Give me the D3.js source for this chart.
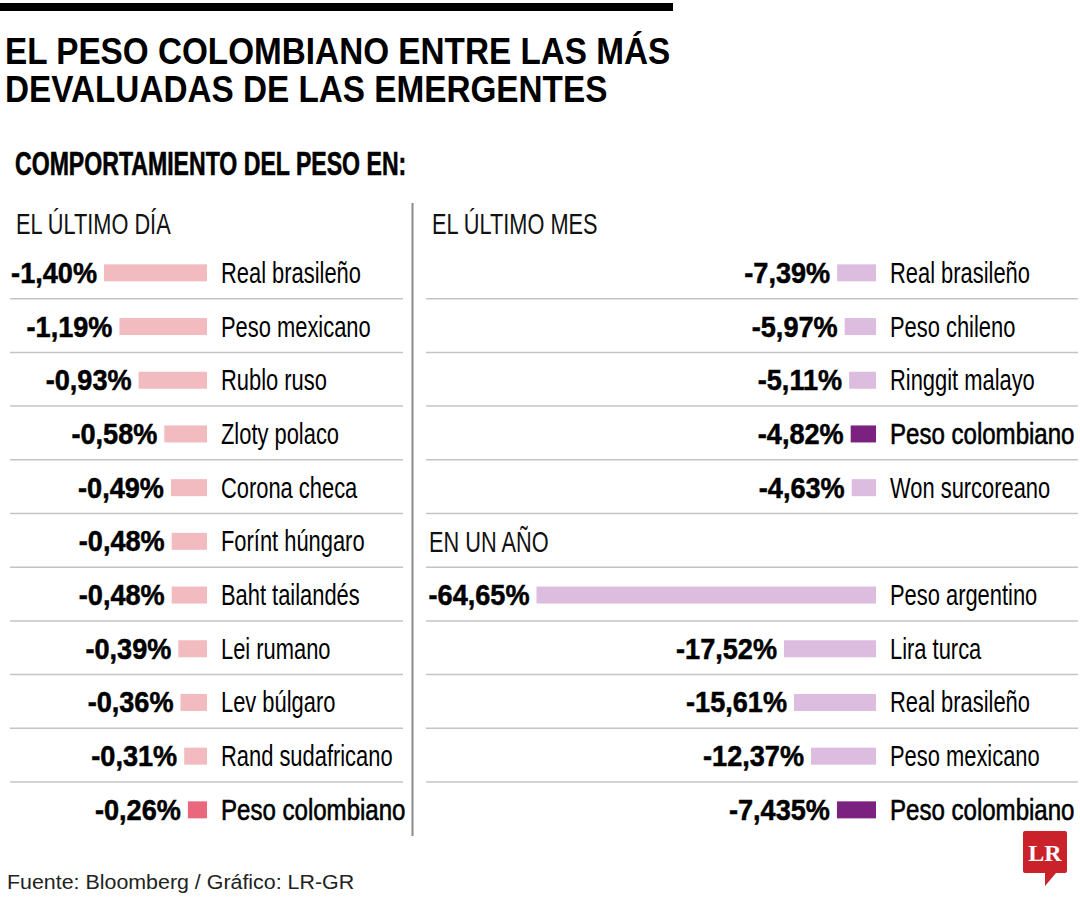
<!DOCTYPE html>
<html>
<head>
<meta charset="utf-8">
<script src="https://cdn.jsdelivr.net/npm/d3@7"></script>
<style>
  html, body { margin: 0; padding: 0; background: #fff; }
  svg { display: block; }
</style>
</head>
<body>
<div id="chart"></div>
<script>
// ---------------- DATA ----------------
const title = ["EL PESO COLOMBIANO ENTRE LAS MÁS", "DEVALUADAS DE LAS EMERGENTES"];
const subtitle = "COMPORTAMIENTO DEL PESO EN:";
const source = "Fuente: Bloomberg / Gráfico: LR-GR";

const dayTitle = "EL ÚLTIMO DÍA";
const dayCategories = ["Real brasileño", "Peso mexicano", "Rublo ruso", "Zloty polaco", "Corona checa",
  "Forínt húngaro", "Baht tailandés", "Lei rumano", "Lev búlgaro", "Rand sudafricano", "Peso colombiano"];
const dayValues = [-1.40, -1.19, -0.93, -0.58, -0.49, -0.48, -0.48, -0.39, -0.36, -0.31, -0.26];

const monthTitle = "EL ÚLTIMO MES";
const monthCategories = ["Real brasileño", "Peso chileno", "Ringgit malayo", "Peso colombiano", "Won surcoreano"];
const monthValues = [-7.39, -5.97, -5.11, -4.82, -4.63];

const yearTitle = "EN UN AÑO";
const yearCategories = ["Peso argentino", "Lira turca", "Real brasileño", "Peso mexicano", "Peso colombiano"];
const yearValues = [-64.65, -17.52, -15.61, -12.37, -7.435];

const highlight = "Peso colombiano";

// ---------------- STYLE ----------------
const W = 1080, H = 900;
const FONT = "'Liberation Sans', Arial, sans-serif";
const colors = {
  dayBar: "#f2bbc0", dayHi: "#e9687d",
  rightBar: "#dcbddf", rightHi: "#7b2180",
  rule: "#c4c4c4", divider: "#8a8a8a", text: "#111"
};

const svg = d3.select("#chart").append("svg")
  .attr("width", W).attr("height", H)
  .attr("viewBox", `0 0 ${W} ${H}`);
svg.append("rect").attr("width", W).attr("height", H).attr("fill", "#fff");

// horizontal condense helper (emulates a condensed typeface)
function condense(sel, f) {
  sel.each(function () {
    const t = d3.select(this);
    const x = +t.attr("x") || 0, y = +t.attr("y") || 0;
    t.attr("x", 0).attr("y", 0)
      .attr("transform", `translate(${x},${y}) scale(${f},1)`);
  });
  return sel;
}

const fmt = v => {
  const dec = (String(v).split(".")[1] || "").length;
  return v.toFixed(Math.max(2, dec)).replace(".", ",") + "%";
};

// top rule
svg.append("rect").attr("x", 0).attr("y", 3).attr("width", 673).attr("height", 8).attr("fill", "#000");

// title
svg.selectAll("text.title").data(title).join("text")
  .attr("class", "title")
  .attr("x", 5).attr("y", (d, i) => 64 + i * 38)
  .attr("font-family", FONT).attr("font-weight", "bold").attr("font-size", 37)
  .attr("fill", "#000")
  .text(d => d)
  .call(condense, 0.9);

svg.append("text")
  .attr("x", 15).attr("y", 175)
  .attr("font-family", FONT).attr("font-weight", "bold").attr("font-size", 33)
  .attr("fill", "#000")
  .attr("stroke", "#000").attr("stroke-width", 0.6)
  .text(subtitle)
  .call(condense, 0.70);

// ---------------- LAYOUT SCALES ----------------
const nRows = 11;
const rowScale = d3.scaleBand().domain(d3.range(nRows)).range([245, 245 + 53.7 * nRows]).paddingInner(0);
const rowCenter = i => rowScale(i) + rowScale.bandwidth() / 2;
const barH = 17;

// left panel
const leftBarEnd = 207;
const xDay = d3.scaleLinear().domain([0, 1.40]).range([0, 103]);
// right panels
const rightBarEnd = 876;
const xRight = d3.scaleLinear().domain([0, 64.65]).range([0, 339.5]);

// separators
const sepIdx = d3.range(nRows - 1);
svg.append("g").selectAll("line").data(sepIdx).join("line")
  .attr("x1", 10).attr("x2", 403)
  .attr("y1", i => rowScale(i) + rowScale.bandwidth())
  .attr("y2", i => rowScale(i) + rowScale.bandwidth())
  .attr("stroke", colors.rule).attr("stroke-width", 1.5);
svg.append("g").selectAll("line").data(sepIdx).join("line")
  .attr("x1", 426).attr("x2", 1078)
  .attr("y1", i => rowScale(i) + rowScale.bandwidth())
  .attr("y2", i => rowScale(i) + rowScale.bandwidth())
  .attr("stroke", colors.rule).attr("stroke-width", 1.5);

// vertical divider
svg.append("line").attr("x1", 412.5).attr("x2", 412.5).attr("y1", 203).attr("y2", 836)
  .attr("stroke", colors.divider).attr("stroke-width", 2);

// section headers
function header(txt, x, y) {
  svg.append("text").attr("x", x).attr("y", y)
    .attr("font-family", FONT).attr("font-size", 29).attr("fill", colors.text)
    .text(txt).call(condense, 0.75);
}
header(dayTitle, 16, 234);
header(monthTitle, 432, 234);
header(yearTitle, 429, rowCenter(5) + 12);

// panel drawing
function panel(cats, vals, startRow, barEnd, xs, base, hi) {
  const data = cats.map((c, i) => ({ c, v: vals[i], row: startRow + i }));
  const g = svg.append("g");
  g.selectAll("rect").data(data).join("rect")
    .attr("x", d => barEnd - xs(Math.abs(d.v)))
    .attr("width", d => xs(Math.abs(d.v)))
    .attr("y", d => rowCenter(d.row) - barH / 2 + 1)
    .attr("height", barH)
    .attr("fill", d => d.c === highlight ? hi : base);
  g.selectAll("text.val").data(data).join("text")
    .attr("class", "val")
    .attr("x", d => barEnd - xs(Math.abs(d.v)) - 7)
    .attr("y", d => rowCenter(d.row) + 11)
    .attr("text-anchor", "end")
    .attr("font-family", FONT).attr("font-weight", "bold").attr("font-size", 29)
    .attr("fill", "#000")
    .attr("stroke", "#000").attr("stroke-width", 0.5)
    .text(d => fmt(d.v))
    .call(condense, 0.935);
  g.selectAll("text.cat").data(data).join("text")
    .attr("class", "cat")
    .attr("x", barEnd + 14)
    .attr("y", d => rowCenter(d.row) + 11)
    .attr("font-family", FONT).attr("font-size", 29)
    .attr("fill", "#000")
    .attr("stroke", d => d.c === highlight ? "#000" : "none")
    .attr("stroke-width", 0.6)
    .text(d => d.c)
    .each(function (d) { condense(d3.select(this), d.c === highlight ? 0.83 : 0.755); });
}
panel(dayCategories, dayValues, 0, leftBarEnd, xDay, colors.dayBar, colors.dayHi);
panel(monthCategories, monthValues, 0, rightBarEnd, xRight, colors.rightBar, colors.rightHi);
panel(yearCategories, yearValues, 6, rightBarEnd, xRight, colors.rightBar, colors.rightHi);

// footer
svg.append("text").attr("x", 7).attr("y", 889)
  .attr("font-family", FONT).attr("font-size", 20).attr("fill", "#222")
  .text(source).call(condense, 1.07);

// LR logo
const logo = svg.append("g").attr("transform", "translate(1023,831)");
logo.append("path")
  .attr("d", "M2,0 H42 Q44,0 44,2 V40 Q44,42 42,42 H33 L22,55 L22,42 H2 Q0,42 0,40 V2 Q0,0 2,0 Z")
  .attr("fill", "#c9222b");
logo.append("text").attr("x", 22).attr("y", 30).attr("text-anchor", "middle")
  .attr("font-family", "'Liberation Serif', 'DejaVu Serif', serif").attr("font-weight", "bold")
  .attr("font-size", 24).attr("fill", "#fff").text("LR");
</script>
</body>
</html>
